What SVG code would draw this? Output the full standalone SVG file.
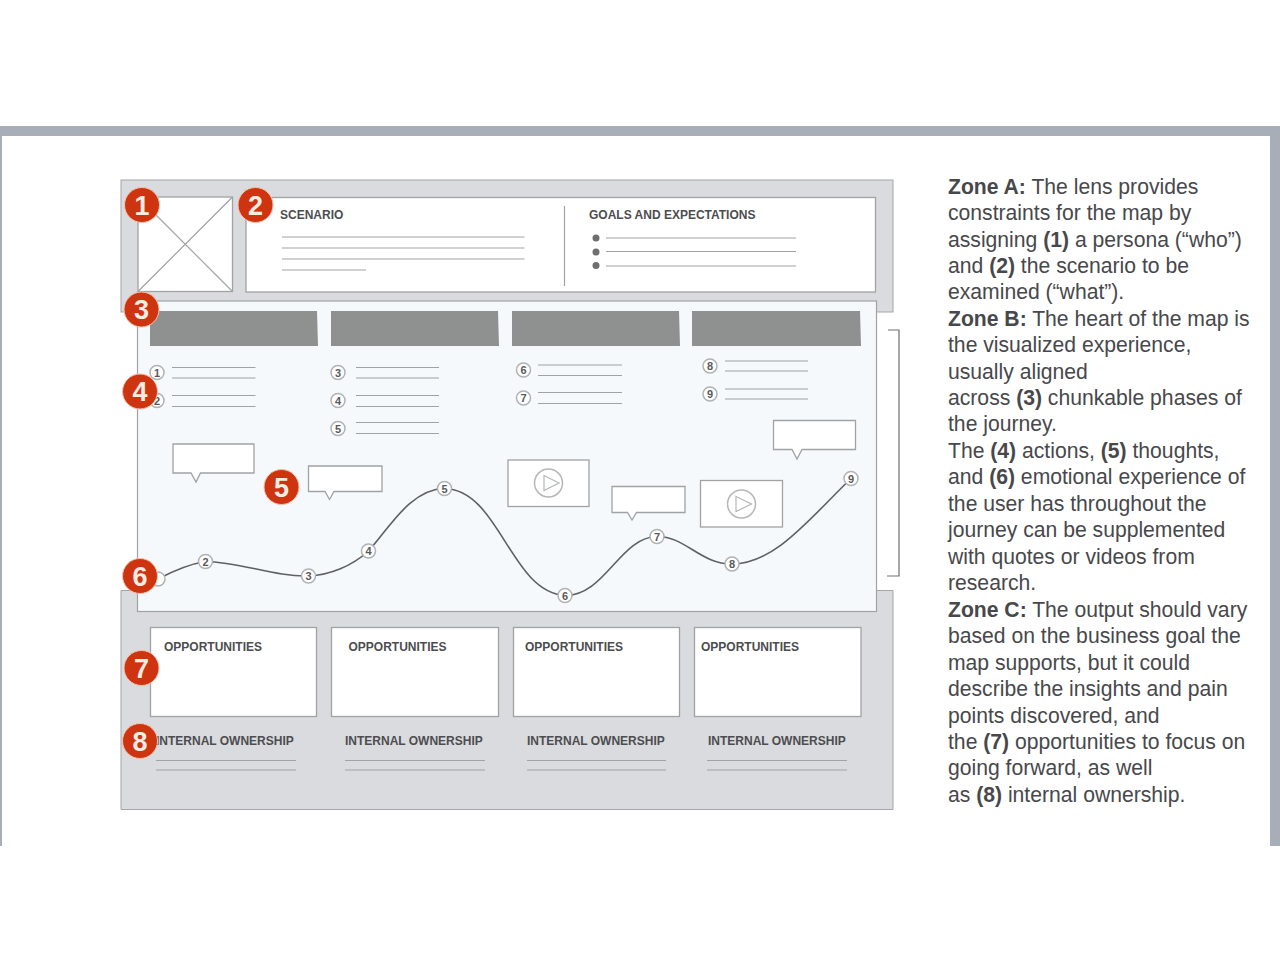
<svg xmlns="http://www.w3.org/2000/svg" width="1280" height="972" viewBox="0 0 1280 972">
<defs>
<style>
text{font-family:"Liberation Sans",Arial,sans-serif}
.frame{fill:#dadbdf;stroke:#a3a5a8;stroke-width:1}
.white{fill:#fff;stroke:#a0a2a4;stroke-width:1.300}
.ln{stroke:#a0a2a4;stroke-width:1.200;fill:none}
.hd{fill:#8f9090}
.lb{font-size:12px;font-weight:700;fill:#4c4d4f}
.bub{fill:#fff;stroke:#a0a2a4;stroke-width:1.300}
.n{fill:#fff;stroke:#b0b2b3;stroke-width:1.500}
.nt{font-size:11px;font-weight:700;fill:#58595b;text-anchor:middle}
.badge{fill:#cf3410;stroke:#f4c3ae;stroke-width:1}
.bt{font-size:27px;font-weight:700;fill:#f6ece4;text-anchor:middle}
.body{font-size:21.150px;fill:#47484b}
.body tspan.b{font-weight:700}
</style>
</defs>
<rect width="1280" height="972" fill="#fff"/>
<path id="page-frame" fill="#a8aeb8" d="M0 126H1280V846H1270V136H2V846H0Z"/>
<g id="zone-a">
<rect class="frame" x="121" y="180" width="772" height="132"/>
<rect class="white" x="138" y="197" width="94.500" height="94.500"/>
<path class="ln" d="M138 197L232.500 291.500M232.500 197L138 291.500"/>
<rect class="white" x="246" y="197.500" width="629.500" height="94.500"/>
<text class="lb" x="280" y="219">SCENARIO</text>
<path class="ln" d="M282 237H524.500M282 248H524.500M282 259H524.500M282 270H366"/>
<path class="ln" d="M564.500 206V286"/>
<text class="lb" x="589" y="219">GOALS AND EXPECTATIONS</text>
<circle cx="596" cy="238" r="3.500" fill="#6d6e70"/><circle cx="596" cy="252" r="3.500" fill="#6d6e70"/><circle cx="596" cy="265.500" r="3.500" fill="#6d6e70"/>
<path class="ln" d="M606 238H796M606 251.500H796M606 266H796"/>
</g>
<g id="zone-c">
<path class="frame" d="M121 590.500H893V809.500H121Z"/>
<rect class="white" x="150.500" y="627.500" width="166" height="89"/>
<rect class="white" x="331.500" y="627.500" width="167" height="89"/>
<rect class="white" x="513.500" y="627.500" width="166" height="89"/>
<rect class="white" x="694.500" y="627.500" width="166.500" height="89"/>
<text class="lb" x="164" y="651">OPPORTUNITIES</text><text class="lb" x="348.500" y="651">OPPORTUNITIES</text><text class="lb" x="525" y="651">OPPORTUNITIES</text><text class="lb" x="701" y="651">OPPORTUNITIES</text>
<text class="lb" x="156" y="745">INTERNAL OWNERSHIP</text><text class="lb" x="345" y="745">INTERNAL OWNERSHIP</text><text class="lb" x="527" y="745">INTERNAL OWNERSHIP</text><text class="lb" x="708" y="745">INTERNAL OWNERSHIP</text>
<path class="ln" d="M156 760.500H296M156 770H296M345 760.500H485M345 770H485M527 760.500H666M527 770H666M707 760.500H847M707 770H847"/>
</g>
<g id="zone-b">
<rect x="137.500" y="301" width="739" height="310.500" fill="#f5f9fb" stroke="#a0a2a4" stroke-width="1.200"/>
<path class="hd" d="M150 311H317L318 346H150ZM331 311H498L499 346H331ZM512 311H679L680 346H512ZM692 311H860L861 346H692Z"/>
<path class="ln" d="M172 367.500H255.500M172 378H255.500M172 395.500H255.500M172 406.500H255.500M356 367.500H439M356 378H439M356 395.500H439M356 406.500H439M356 422.500H439M356 433.500H439M538 365H622M538 375.500H622M538 392.500H622M538 403.500H622M725 361H808M725 371H808M725 389H808M725 399H808"/>
<g id="bullets">
<circle class="n" cx="157" cy="372.500" r="7"/><text class="nt" x="157" y="376.500">1</text>
<circle class="n" cx="157" cy="400.500" r="7"/><text class="nt" x="157" y="404.500">2</text>
<circle class="n" cx="338" cy="372.500" r="7"/><text class="nt" x="338" y="376.500">3</text>
<circle class="n" cx="338" cy="400.500" r="7"/><text class="nt" x="338" y="404.500">4</text>
<circle class="n" cx="338" cy="428.500" r="7"/><text class="nt" x="338" y="432.500">5</text>
<circle class="n" cx="523.500" cy="370" r="7"/><text class="nt" x="523.500" y="374">6</text>
<circle class="n" cx="523.500" cy="398" r="7"/><text class="nt" x="523.500" y="402">7</text>
<circle class="n" cx="710" cy="366" r="7"/><text class="nt" x="710" y="370">8</text>
<circle class="n" cx="710" cy="394" r="7"/><text class="nt" x="710" y="398">9</text>
</g>
<g id="bubbles">
<path class="bub" d="M173 444H254V473H200.500L196 482L191 473H173Z"/>
<path class="bub" d="M308.500 466H382V491.500H334L329.500 499.500L325 491.500H308.500Z"/>
<path class="bub" d="M612 486.500H685V512.500H636.500L632 520L627.500 512.500H612Z"/>
<path class="bub" d="M773.500 420.500H855.500V449.500H802L797 459L792 449.500H773.500Z"/>
</g>
<g id="videos">
<rect class="white" x="508" y="460" width="81" height="46.500"/>
<circle cx="548.500" cy="483" r="14" fill="none" stroke="#b5b7b8" stroke-width="1.500"/>
<path d="M544 475.500L559 483L544 490.500Z" fill="none" stroke="#b5b7b8" stroke-width="1.200"/>
<rect class="white" x="700.500" y="480.500" width="82" height="46.500"/>
<circle cx="741.500" cy="504" r="14" fill="none" stroke="#b5b7b8" stroke-width="1.500"/>
<path d="M736 496.500L751.500 504L736 511.500Z" fill="none" stroke="#b5b7b8" stroke-width="1.200"/>
</g>
</g>
<g id="connectors">
<path d="M158 579C175 570 190 564 205.500 561.500C240 562 275 577 308.500 576C330 575 352 566 368.500 551C388 530 410 489 444.500 488.500C500 490 510 592 565 595.500C605 596 620 537 657 536.500C685 536 700 564 732 564C775 564 810 518 851 478.500" fill="none" stroke="#5e6062" stroke-width="1.600"/>
<path d="M888 330H899V576H887" fill="none" stroke="#6d6e70" stroke-width="1.200"/>
</g>
<g id="curve-points">
<circle class="n" cx="158" cy="579" r="7"/>
<circle class="n" cx="205.500" cy="561.500" r="7"/><text class="nt" x="205.500" y="565.500">2</text>
<circle class="n" cx="308.500" cy="576" r="7"/><text class="nt" x="308.500" y="580">3</text>
<circle class="n" cx="368.500" cy="551" r="7"/><text class="nt" x="368.500" y="555">4</text>
<circle class="n" cx="444.500" cy="488.500" r="7"/><text class="nt" x="444.500" y="492.500">5</text>
<circle class="n" cx="565" cy="595.500" r="7"/><text class="nt" x="565" y="599.500">6</text>
<circle class="n" cx="657" cy="536.500" r="7"/><text class="nt" x="657" y="540.500">7</text>
<circle class="n" cx="732" cy="564" r="7"/><text class="nt" x="732" y="568">8</text>
<circle class="n" cx="851" cy="478.500" r="7"/><text class="nt" x="851" y="482.500">9</text>
</g>
<g id="badge-1"><circle class="badge" cx="142" cy="205" r="17.500"/><text class="bt" x="142" y="214.500">1</text></g>
<g id="badge-2"><circle class="badge" cx="255.500" cy="205" r="17.500"/><text class="bt" x="255.500" y="214.500">2</text></g>
<g id="badge-3"><circle class="badge" cx="141.500" cy="309.500" r="17.500"/><text class="bt" x="141.500" y="319">3</text></g>
<g id="badge-4"><circle class="badge" cx="140" cy="391.500" r="17.500"/><text class="bt" x="140" y="401">4</text></g>
<g id="badge-5"><circle class="badge" cx="281.500" cy="487" r="17.500"/><text class="bt" x="281.500" y="496.500">5</text></g>
<g id="badge-6"><circle class="badge" cx="140" cy="576" r="17.500"/><text class="bt" x="140" y="585.500">6</text></g>
<g id="badge-7"><circle class="badge" cx="141.500" cy="668" r="17.500"/><text class="bt" x="141.500" y="677.500">7</text></g>
<g id="badge-8"><circle class="badge" cx="140" cy="741" r="17.500"/><text class="bt" x="140" y="750.500">8</text></g>
<g id="description">
<text class="body" x="948" y="194"><tspan class="b">Zone A:</tspan> The lens provides</text>
<text class="body" x="948" y="220">constraints for the map by</text>
<text class="body" x="948" y="247">assigning <tspan class="b">(1)</tspan> a persona (“who”)</text>
<text class="body" x="948" y="273">and <tspan class="b">(2)</tspan> the scenario to be</text>
<text class="body" x="948" y="299">examined (“what”).</text>
<text class="body" x="948" y="326"><tspan class="b">Zone B:</tspan> The heart of the map is</text>
<text class="body" x="948" y="352">the visualized experience,</text>
<text class="body" x="948" y="379">usually aligned</text>
<text class="body" x="948" y="405">across <tspan class="b">(3)</tspan> chunkable phases of</text>
<text class="body" x="948" y="431">the journey.</text>
<text class="body" x="948" y="458">The <tspan class="b">(4)</tspan> actions, <tspan class="b">(5)</tspan> thoughts,</text>
<text class="body" x="948" y="484">and <tspan class="b">(6)</tspan> emotional experience of</text>
<text class="body" x="948" y="511">the user has throughout the</text>
<text class="body" x="948" y="537">journey can be supplemented</text>
<text class="body" x="948" y="564">with quotes or videos from</text>
<text class="body" x="948" y="590">research.</text>
<text class="body" x="948" y="617"><tspan class="b">Zone C:</tspan> The output should vary</text>
<text class="body" x="948" y="643">based on the business goal the</text>
<text class="body" x="948" y="670">map supports, but it could</text>
<text class="body" x="948" y="696">describe the insights and pain</text>
<text class="body" x="948" y="723">points discovered, and</text>
<text class="body" x="948" y="749">the <tspan class="b">(7)</tspan> opportunities to focus on</text>
<text class="body" x="948" y="775">going forward, as well</text>
<text class="body" x="948" y="802">as <tspan class="b">(8)</tspan> internal ownership.</text>
</g>
</svg>
